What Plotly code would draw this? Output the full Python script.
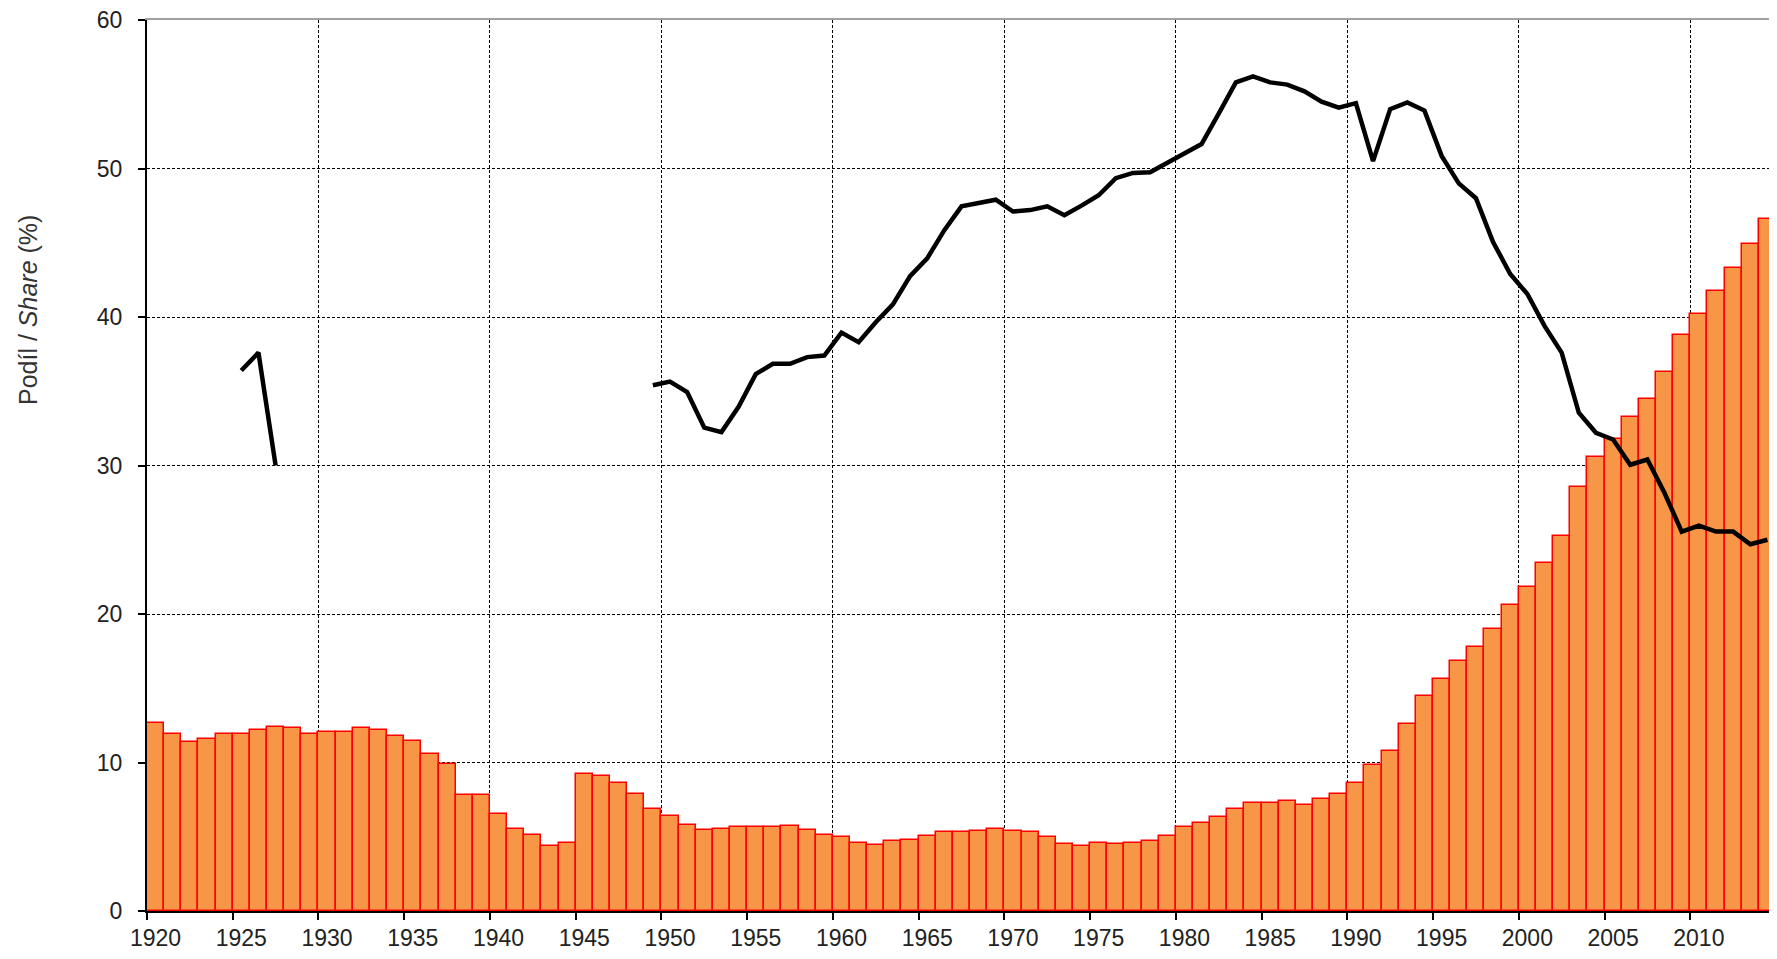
import plotly.graph_objects as go

# ---- data ----
years = list(range(1920, 2015))

bar_values = [
    12.65, 11.9, 11.35, 11.55, 11.9, 11.9, 12.2, 12.4, 12.3, 11.9,      # 1920-1929
    12.05, 12.05, 12.3, 12.2, 11.8, 11.45, 10.6, 9.9, 7.8, 7.8,         # 1930-1939
    6.5, 5.5, 5.15, 4.35, 4.6, 9.2, 9.1, 8.6, 7.9, 6.85,                # 1940-1949
    6.4, 5.8, 5.45, 5.55, 5.65, 5.65, 5.65, 5.75, 5.45, 5.1,            # 1950-1959
    4.95, 4.6, 4.45, 4.7, 4.8, 5.05, 5.3, 5.3, 5.4, 5.55,               # 1960-1969
    5.4, 5.3, 4.95, 4.5, 4.35, 4.6, 4.5, 4.6, 4.7, 5.05,                # 1970-1979
    5.65, 5.9, 6.35, 6.85, 7.3, 7.3, 7.4, 7.15, 7.55, 7.9,              # 1980-1989
    8.6, 9.8, 10.75, 12.6, 14.5, 15.6, 16.85, 17.8, 19.0, 20.6,         # 1990-1999
    21.85, 23.45, 25.25, 28.55, 30.55, 31.8, 33.25, 34.45, 36.3, 38.8,  # 2000-2009
    40.2, 41.75, 43.3, 44.9, 46.6,                                      # 2010-2014
]

N = None
line_values = [
    N, N, N, N, N, 36.4, 37.6, 30.0, N, N,                              # 1920-1929
    N, N, N, N, N, N, N, N, N, N,                                       # 1930-1939
    N, N, N, N, N, N, N, N, N, 35.4,                                    # 1940-1949
    35.65, 34.95, 32.55, 32.25, 33.95, 36.15, 36.85, 36.85, 37.3, 37.4, # 1950-1959
    38.95, 38.3, 39.65, 40.85, 42.75, 43.95, 45.85, 47.45, 47.7, 47.9,  # 1960-1969
    47.1, 47.2, 47.45, 46.85, 47.5, 48.2, 49.35, 49.7, 49.75, 50.4,     # 1970-1979
    51.0, 51.65, 53.7, 55.8, 56.2, 55.8, 55.65, 55.2, 54.5, 54.1,       # 1980-1989
    54.4, 50.5, 54.0, 54.45, 53.9, 50.85, 49.0, 48.0, 45.05, 42.9,      # 1990-1999
    41.55, 39.4, 37.6, 33.55, 32.2, 31.75, 30.05, 30.4, 28.15, 25.55,   # 2000-2009
    25.95, 25.55, 25.55, 24.7, 25.0,                                    # 2010-2014
]

label_years = list(range(1920, 2015, 5))
tick_labels = [str(y) for y in label_years]
grid_years = list(range(1930, 2015, 10))
y_ticks = [0, 10, 20, 30, 40, 50, 60]
y_title = "Podíl / <i>Share</i> (%)"

# ---- figure ----
FONT = "Liberation Sans, Arial, sans-serif"
x_range = [years[0] - 0.5, years[-1] + 0.5]

fig = go.Figure()
fig.add_trace(go.Bar(
    x=years, y=bar_values, width=1,
    marker=dict(color="#F79646", line=dict(color="#FF0000", width=1.5)),
    showlegend=False, hoverinfo="x+y",
))
fig.add_trace(go.Scatter(
    x=years, y=line_values, mode="lines", connectgaps=False,
    line=dict(color="#000000", width=4.5, shape="linear"),
    showlegend=False,
))
# helper trace so the grid axis is drawn
fig.add_trace(go.Scatter(x=[], y=[], xaxis="x2", yaxis="y", showlegend=False,
                         hoverinfo="skip"))

fig.update_layout(
    width=1769, height=951,
    margin=dict(l=139, r=1, t=12, b=48, autoexpand=False),
    paper_bgcolor="white", plot_bgcolor="white",
    bargap=0,
    font=dict(family=FONT, size=23, color="#222222"),
    xaxis=dict(
        range=x_range, tickmode="array",
        tickvals=label_years, ticktext=tick_labels,
        ticks="", showgrid=False, zeroline=False,
        showline=True, linecolor="#000000", linewidth=2,
        tickfont=dict(size=23, color="#222222"),
        ticklabelstandoff=5,
        ticklabeloverflow="allow",
        minor=dict(
            tickmode="array",
            tickvals=[y - 0.5 for y in label_years] + [years[-1] + 0.5],
            ticks="outside", ticklen=7, tickwidth=1.5, tickcolor="#000000",
            showgrid=False,
        ),
    ),
    xaxis2=dict(
        overlaying="x", side="top", range=x_range,
        tickmode="array", tickvals=[y - 0.5 for y in grid_years],
        showticklabels=False, ticks="",
        showgrid=True, gridcolor="#000000", gridwidth=1, griddash="3px,2px",
        zeroline=False,
        showline=True, linecolor="#A0A0A0", linewidth=2,
    ),
    yaxis=dict(
        range=[0, 60], tickmode="array", tickvals=y_ticks,
        showgrid=True, gridcolor="#000000", gridwidth=1, griddash="3px,2px",
        zeroline=False,
        showline=True, linecolor="#000000", linewidth=2,
        ticks="outside", ticklen=7, tickwidth=1.5, tickcolor="#000000",
        tickfont=dict(size=23, color="#222222"),
        ticklabelstandoff=11,
        ticklabeloverflow="allow",
    ),
    annotations=[dict(
        text=y_title, textangle=-90, showarrow=False,
        xref="paper", yref="paper", x=-0.0734, y=0.675,
        xanchor="center", yanchor="middle",
        font=dict(size=25, color="#333333", family=FONT),
    )],
    shapes=[dict(type="line", xref="paper", yref="paper",
                 x0=1, x1=1, y0=0, y1=1,
                 line=dict(color="#A0A0A0", width=2))],
)

fig.write_html("out.html")
